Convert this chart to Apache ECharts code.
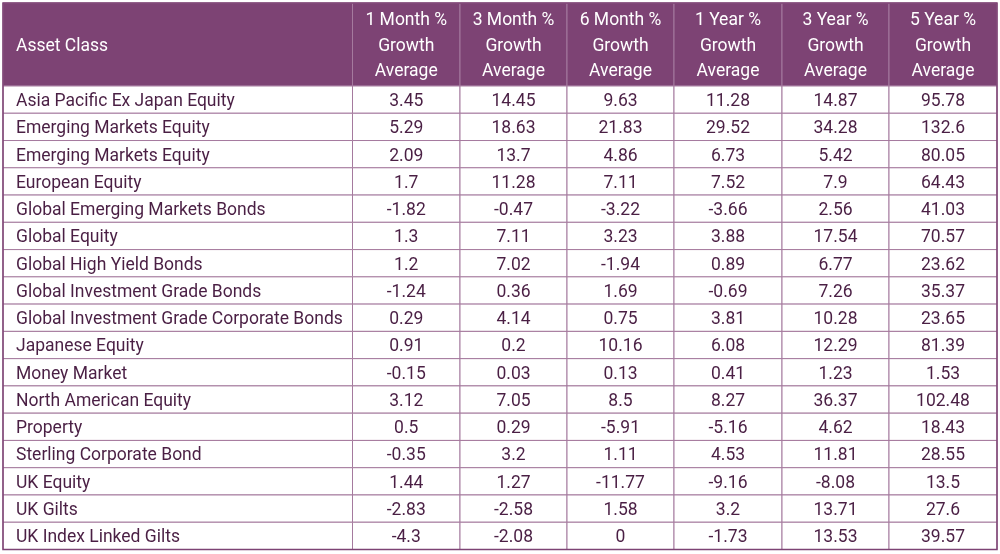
<!DOCTYPE html>
<html><head><meta charset="utf-8">
<script src="https://cdn.jsdelivr.net/npm/echarts@6/dist/echarts.min.js"></script>
<style>html,body{margin:0;padding:0;background:#fff}#c{width:1000px;height:554px}</style>
</head><body><div id="c"></div>
<script>
const assetClasses = ["Asia Pacific Ex Japan Equity","Emerging Markets Equity","Emerging Markets Equity","European Equity","Global Emerging Markets Bonds","Global Equity","Global High Yield Bonds","Global Investment Grade Bonds","Global Investment Grade Corporate Bonds","Japanese Equity","Money Market","North American Equity","Property","Sterling Corporate Bond","UK Equity","UK Gilts","UK Index Linked Gilts"];
const headers = ["Asset Class","1 Month %\nGrowth\nAverage","3 Month %\nGrowth\nAverage","6 Month %\nGrowth\nAverage","1 Year %\nGrowth\nAverage","3 Year %\nGrowth\nAverage","5 Year %\nGrowth\nAverage"];
const month1 = ["3.45","5.29","2.09","1.7","-1.82","1.3","1.2","-1.24","0.29","0.91","-0.15","3.12","0.5","-0.35","1.44","-2.83","-4.3"];
const month3 = ["14.45","18.63","13.7","11.28","-0.47","7.11","7.02","0.36","4.14","0.2","0.03","7.05","0.29","3.2","1.27","-2.58","-2.08"];
const month6 = ["9.63","21.83","4.86","7.11","-3.22","3.23","-1.94","1.69","0.75","10.16","0.13","8.5","-5.91","1.11","-11.77","1.58","0"];
const year1 = ["11.28","29.52","6.73","7.52","-3.66","3.88","0.89","-0.69","3.81","6.08","0.41","8.27","-5.16","4.53","-9.16","3.2","-1.73"];
const year3 = ["14.87","34.28","5.42","7.9","2.56","17.54","6.77","7.26","10.28","12.29","1.23","36.37","4.62","11.81","-8.08","13.71","13.53"];
const year5 = ["95.78","132.6","80.05","64.43","41.03","70.57","23.62","35.37","23.65","81.39","1.53","102.48","18.43","28.55","13.5","27.6","39.57"];

// layout (pixel units of the value axes)
const colEdges = [3, 352.5, 460, 567, 674, 782, 889, 997];
const headTop = 3, headBottom = 86, tableBottom = 549.5;
const rowH = (tableBottom - headBottom) / assetClasses.length;
const headerBg = '#7d4374', textColor = '#4a1f44', lineColor = '#a57a9e', outerColor = '#7d4374';
const font = 'Roboto, "Noto Sans", sans-serif';

const columns = [assetClasses, month1, month3, month6, year1, year3, year5];
const data = [];
headers.forEach((h, c) => data.push([c, -1, h]));
columns.forEach((col, c) => col.forEach((v, r) => data.push([c, r, v])));

function renderItem(params, api) {
  const c = api.value(0), r = api.value(1), txt = data[params.dataIndex][2];
  const y0 = r < 0 ? headTop : headBottom + r * rowH;
  const y1 = r < 0 ? headBottom : headBottom + (r + 1) * rowH;
  const p0 = api.coord([colEdges[c], y0]);
  const p1 = api.coord([colEdges[c + 1], y1]);
  const isHead = r < 0;
  const left = c === 0;
  return {
    type: 'group',
    children: [
      { type: 'rect', shape: { x: p0[0], y: p0[1], width: p1[0] - p0[0], height: p1[1] - p0[1] },
        style: { fill: isHead ? headerBg : '#fff', stroke: lineColor, lineWidth: 1 } },
      { type: 'text', style: {
          x: left ? p0[0] + 13 : (p0[0] + p1[0]) / 2, y: (p0[1] + p1[1]) / 2 + 2,
          text: txt, align: left ? 'left' : 'center', verticalAlign: 'middle',
          fill: isHead ? '#fff' : textColor, font: '17.5px ' + font, lineHeight: 25.5 } }
    ]
  };
}

const chart = echarts.init(document.getElementById('c'), null, { renderer: 'canvas' });
chart.setOption({
  animation: false,
  grid: { left: 0, right: 0, top: 0, bottom: 0 },
  xAxis: { type: 'value', min: 0, max: 1000, show: false },
  yAxis: { type: 'value', min: 0, max: 554, inverse: true, show: false },
  series: [{ type: 'custom', renderItem, data: data.map(d => [d[0], d[1]]), clip: false }],
  graphic: [{ type: 'rect', shape: { x: colEdges[0], y: headTop, width: colEdges[7] - colEdges[0], height: tableBottom - headTop },
    style: { fill: 'none', stroke: outerColor, lineWidth: 1.5 }, z: 100 }]
});
</script></body></html>
